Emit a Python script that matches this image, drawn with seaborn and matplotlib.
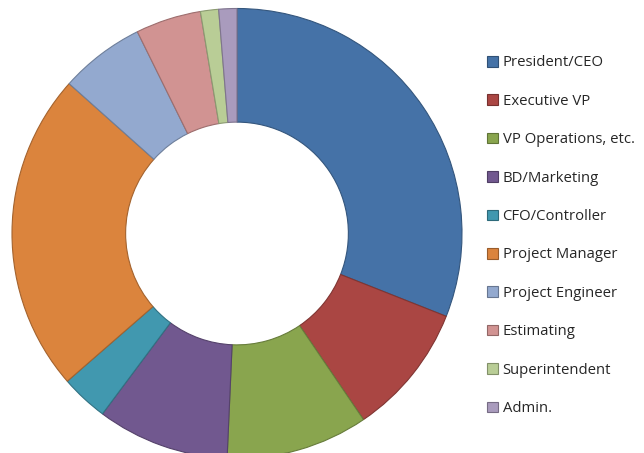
import numpy as np
import matplotlib
matplotlib.use("Agg")
import matplotlib.pyplot as plt
import matplotlib.colors as mcolors
from matplotlib.patches import Patch
import seaborn as sns

# Share of respondents by role (percent)
roles = ["President/CEO", "Executive VP", "VP Operations, etc.", "BD/Marketing",
         "CFO/Controller", "Project Manager", "Project Engineer", "Estimating",
         "Superintendent", "Admin."]
shares = [31.0, 9.5, 10.2, 9.5, 3.4, 23.0, 6.1, 4.7, 1.3, 1.3]
colors = ["#4572A7", "#AA4643", "#89A54E", "#71588F", "#4198AF",
          "#DB843D", "#93A9CF", "#D19392", "#B9CD96", "#A99BBD"]

sns.set_theme(style="white")
plt.rcParams["font.family"] = ["Open Sans", "DejaVu Sans"]


def darker(c, f=0.8):
    r, g, b = mcolors.to_rgb(c)
    return (r * f, g * f, b * f)


fig = plt.figure(figsize=(6.44, 4.53), dpi=100)
# pie box: 450x450 px, centre at (237, 233.5) from top-left
ax = fig.add_axes([12 / 644, (453 - 233.5 - 225) / 453, 450 / 644, 450 / 453])
wedges, _ = ax.pie(shares, colors=colors, startangle=90, counterclock=False,
                   radius=1.0, wedgeprops=dict(width=0.505, linewidth=0.8))
for w, c in zip(wedges, colors):
    w.set_edgecolor(darker(c, 0.75))
ax.set_xlim(-1, 1)
ax.set_ylim(-1, 1)
ax.set_aspect("auto")
ax.axis("off")

handles = [Patch(facecolor=c, edgecolor=darker(c, 0.7), linewidth=0.8) for c in colors]
fig.legend(handles, roles, loc="upper left", bbox_to_anchor=(483 / 644, 1 - 51 / 453),
           frameon=False, fontsize=10.7, labelspacing=1.575, handlelength=0.72,
           handleheight=0.72, handletextpad=0.3, borderaxespad=0, borderpad=0.3)

fig.savefig("out.png", dpi=100)
